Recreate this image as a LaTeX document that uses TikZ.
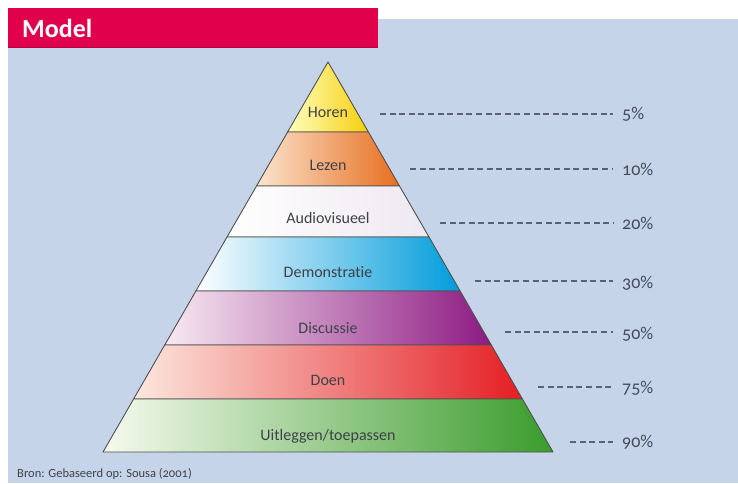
\documentclass[tikz,border=0pt]{standalone}
\usepackage{fontspec}
\setmainfont{Carlito}[Numbers=OldStyle, Ligatures=NoCommon]
\definecolor{bgblue}{HTML}{C6D4E9}
\definecolor{barred}{HTML}{E1004B}
\definecolor{edge}{HTML}{4F4F4F}
\definecolor{txt}{HTML}{3E4148}
\definecolor{pct}{HTML}{454B5C}
\definecolor{dash}{HTML}{5C6275}
\tikzset{
  band/.style={draw=edge, line width=0.9pt, line join=round},
  lbl/.style={text=txt, font=\fontsize{16}{17}\selectfont, inner sep=0pt},
  pctlbl/.style={text=pct, font=\fontsize{18}{19}\selectfont, anchor=west, inner sep=0pt},
  dashline/.style={draw=dash, line width=1.1pt, dash pattern=on 6pt off 3.6pt}
}
\begin{document}
\begin{tikzpicture}[x=1pt,y=-1pt]
\useasboundingbox (0,0) rectangle (738,483);
\fill[white] (0,0) rectangle (738,483);
\fill[bgblue] (8,19) rectangle (738,483);
% title bar
\fill[barred] (8,8) rectangle (378,48);
\fill[barred!80!black] (8,46.5) rectangle (378,48);
\node[anchor=west, text=white, font=\bfseries\fontsize{26}{27}\selectfont, inner sep=0pt] (title) at (22,28) {Model};
% bands
\shade[band, left color=yellow!25, right color={rgb,255:red,246;green,206;blue,10}] (328,62) -- (368.4,132) -- (287.6,132) -- cycle;
\shade[band, left color={rgb,255:red,251;green,228;blue,206}, middle color={rgb,255:red,245;green,175;blue,125}, right color={rgb,255:red,232;green,110;blue,30}] (287.6,132) -- (368.4,132) -- (399.5,186) -- (256.5,186) -- cycle;
\shade[band, left color=white, right color={rgb,255:red,238;green,232;blue,240}] (256.5,186) -- (399.5,186) -- (429,237) -- (227,237) -- cycle;
\shade[band, left color=white, middle color={rgb,255:red,160;green,216;blue,242}, right color={rgb,255:red,0;green,156;blue,220}] (227,237) -- (429,237) -- (460.1,291) -- (195.9,291) -- cycle;
\shade[band, left color={rgb,255:red,248;green,234;blue,243}, middle color={rgb,255:red,214;green,160;blue,203}, right color={rgb,255:red,140;green,26;blue,130}] (195.9,291) -- (460.1,291) -- (491.3,345) -- (164.7,345) -- cycle;
\shade[band, left color={rgb,255:red,252;green,232;blue,222}, middle color={rgb,255:red,242;green,166;blue,138}, right color={rgb,255:red,228;green,30;blue,36}] (164.7,345) -- (491.3,345) -- (522.4,399) -- (133.6,399) -- cycle;
\shade[band, left color={rgb,255:red,246;green,250;blue,238}, middle color={rgb,255:red,196;green,228;blue,168}, right color={rgb,255:red,58;green,156;blue,44}] (133.6,399) -- (522.4,399) -- (553,452) -- (103,452) -- cycle;
% labels
\node[lbl] (horen) at (328,112) {Horen};
\node[lbl] (lezen) at (328,165) {Lezen};
\node[lbl] (audio) at (328,218) {Audiovisueel};
\node[lbl] (demo) at (328,272) {Demonstratie};
\node[lbl] (disc) at (328,328) {Discussie};
\node[lbl] (doen) at (328,380) {Doen};
\node[lbl] (uitleg) at (328,436) {Uitleggen/toepassen};
% percentages
\node[pctlbl] (p5) at (622,114) {5\%};
\node[pctlbl] (p10) at (622,169) {10\%};
\node[pctlbl] (p20) at (622,223) {20\%};
\node[pctlbl] (p30) at (622,283) {30\%};
\node[pctlbl] (p50) at (622,334) {50\%};
\node[pctlbl] (p75) at (622,388) {75\%};
\node[pctlbl] (p90) at (622,442) {90\%};
\coordinate (d5) at (380,114);
\coordinate (d10) at (410,169);
\coordinate (d20) at (440,223);
\coordinate (d30) at (475,281);
\coordinate (d50) at (505,332);
\coordinate (d75) at (538,387);
\coordinate (d90) at (570,442);
\draw[dashline] (d5) -- ([xshift=-9pt]p5.west |- d5);
\draw[dashline] (d10) -- ([xshift=-9pt]p10.west |- d10);
\draw[dashline] (d20) -- ([xshift=-9pt]p20.west |- d20);
\draw[dashline] (d30) -- ([xshift=-9pt]p30.west |- d30);
\draw[dashline] (d50) -- ([xshift=-9pt]p50.west |- d50);
\draw[dashline] (d75) -- ([xshift=-9pt]p75.west |- d75);
\draw[dashline] (d90) -- ([xshift=-9pt]p90.west |- d90);
% source
\node[anchor=west, text=txt, font=\fontsize{12.5}{13}\selectfont, inner sep=0pt] (bron) at (17,474) {Bron: Gebaseerd op: Sousa (2001)};
\end{tikzpicture}
\end{document}
